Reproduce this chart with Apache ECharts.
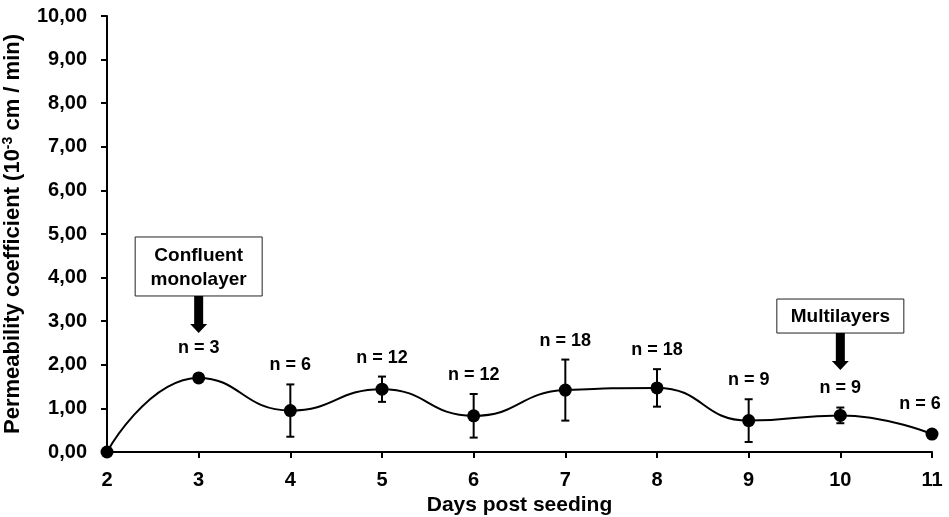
<!DOCTYPE html>
<html><head><meta charset="utf-8">
<script src="https://cdn.jsdelivr.net/npm/echarts@6/dist/echarts.min.js"></script>
<style>html,body{margin:0;padding:0;background:#fff}#c{width:949px;height:517px}</style>
</head><body><div id="c"></div>
<script>
const days = [2, 3, 4, 5, 6, 7, 8, 9, 10, 11];
const means = [0, 1.70, 0.95, 1.44, 0.83, 1.42, 1.47, 0.72, 0.84, 0.41];
const errs = [0, 0, 0.60, 0.29, 0.50, 0.70, 0.43, 0.49, 0.18, 0];
const nLabels = ['', 'n = 3', 'n = 6', 'n = 12', 'n = 12', 'n = 18', 'n = 18', 'n = 9', 'n = 9', 'n = 6'];
const notes = [
  { day: 3, tip: 2.73, text: 'Confluent\nmonolayer' },
  { day: 10, tip: 1.88, text: 'Multilayers' }
];
const FONT = '"Liberation Sans", Arial, sans-serif';

const chart = echarts.init(document.getElementById('c'), null, { renderer: 'canvas' });
chart.setOption({
  animation: false,
  grid: { left: 107, right: 17, top: 16, bottom: 65, containLabel: false, outerBoundsMode: 'none' },
  xAxis: {
    type: 'value', min: 2, max: 11, interval: 1,
    name: 'Days post seeding', nameLocation: 'middle', nameGap: 40,
    nameTextStyle: { fontFamily: FONT, fontWeight: 'bold', fontSize: 21, color: '#000' },
    axisLine: { lineStyle: { color: '#000', width: 2 } },
    axisTick: { show: true, length: 6, lineStyle: { color: '#000', width: 2 } },
    axisLabel: { fontFamily: FONT, fontWeight: 'bold', fontSize: 20, color: '#000', margin: 18 },
    splitLine: { show: false }
  },
  yAxis: {
    type: 'value', min: 0, max: 10, interval: 1,
    name: 'Permeability coefficient (10{sup|-3} cm / min)', nameLocation: 'middle', nameGap: 82,
    nameTextStyle: { fontFamily: FONT, fontWeight: 'bold', fontSize: 22, color: '#000',
      rich: { sup: { fontFamily: FONT, fontWeight: 'bold', fontSize: 14, color: '#000', verticalAlign: 'top', padding: [0, 0, 10, 0] } } },
    axisLine: { show: true, lineStyle: { color: '#000', width: 2 } },
    axisTick: { show: true, length: 6, lineStyle: { color: '#000', width: 2 } },
    axisLabel: { fontFamily: FONT, fontWeight: 'bold', fontSize: 20, color: '#000', margin: 20,
      formatter: v => v.toFixed(2).replace('.', ',') },
    splitLine: { show: false }
  },
  series: [
    {
      type: 'line', smooth: 0.5,
      data: days.map((d, i) => [d, means[i]]),
      symbol: 'circle', symbolSize: 13,
      itemStyle: { color: '#000' },
      lineStyle: { color: '#000', width: 2 },
      z: 3
    },
    {
      type: 'custom',
      data: days.map((d, i) => [d, means[i], errs[i], i]),
      renderItem: function (params, api) {
        const x = api.value(0), m = api.value(1), e = api.value(2), idx = api.value(3);
        const top = api.coord([x, m + e]);
        const bot = api.coord([x, m - e]);
        const children = [];
        if (e > 0) {
          const st = { stroke: '#000', lineWidth: 2 };
          children.push({ type: 'line', shape: { x1: top[0], y1: top[1], x2: bot[0], y2: bot[1] }, style: st });
          children.push({ type: 'line', shape: { x1: top[0] - 4, y1: top[1], x2: top[0] + 4, y2: top[1] }, style: st });
          children.push({ type: 'line', shape: { x1: bot[0] - 4, y1: bot[1], x2: bot[0] + 4, y2: bot[1] }, style: st });
        }
        const lab = nLabels[idx];
        if (lab) {
          const off = e > 0 ? 19 : 30;
          const halfW = lab.length * 5;
          const cx = Math.min(top[0], api.getWidth() - 4 - halfW);
          children.push({ type: 'text', x: cx, y: top[1] - off,
            style: { text: lab, fontFamily: FONT, fontWeight: 'bold', fontSize: 18, fill: '#000', align: 'center', verticalAlign: 'middle' } });
        }
        return { type: 'group', children: children };
      },
      z: 4
    },
    {
      type: 'custom',
      data: notes.map(n => [n.day, n.tip]),
      renderItem: function (params, api) {
        const note = notes[params.dataIndex];
        const p = api.coord([api.value(0), api.value(1)]);
        const x = p[0], tip = p[1];
        const arrowLen = 37;
        const twoLine = note.text.indexOf('\n') >= 0;
        const boxH = twoLine ? 59 : 34;
        const boxW = 127;
        const boxBottom = tip - arrowLen;
        const children = [
          { type: 'rect', shape: { x: x - boxW / 2, y: boxBottom - boxH, width: boxW, height: boxH },
            style: { fill: '#fff', stroke: '#222', lineWidth: 1 } },
          { type: 'text', x: x, y: boxBottom - boxH / 2 + 1,
            style: { text: note.text, fontFamily: FONT, fontWeight: 'bold', fontSize: 19, lineHeight: 24, fill: '#000', align: 'center', verticalAlign: 'middle' } },
          { type: 'polygon', shape: { points: [
              [x - 4.5, boxBottom], [x + 4.5, boxBottom], [x + 4.5, tip - 9], [x + 8.5, tip - 9],
              [x, tip], [x - 8.5, tip - 9], [x - 4.5, tip - 9]] },
            style: { fill: '#000' } }
        ];
        return { type: 'group', children: children };
      },
      z: 5
    }
  ]
});
</script></body></html>
